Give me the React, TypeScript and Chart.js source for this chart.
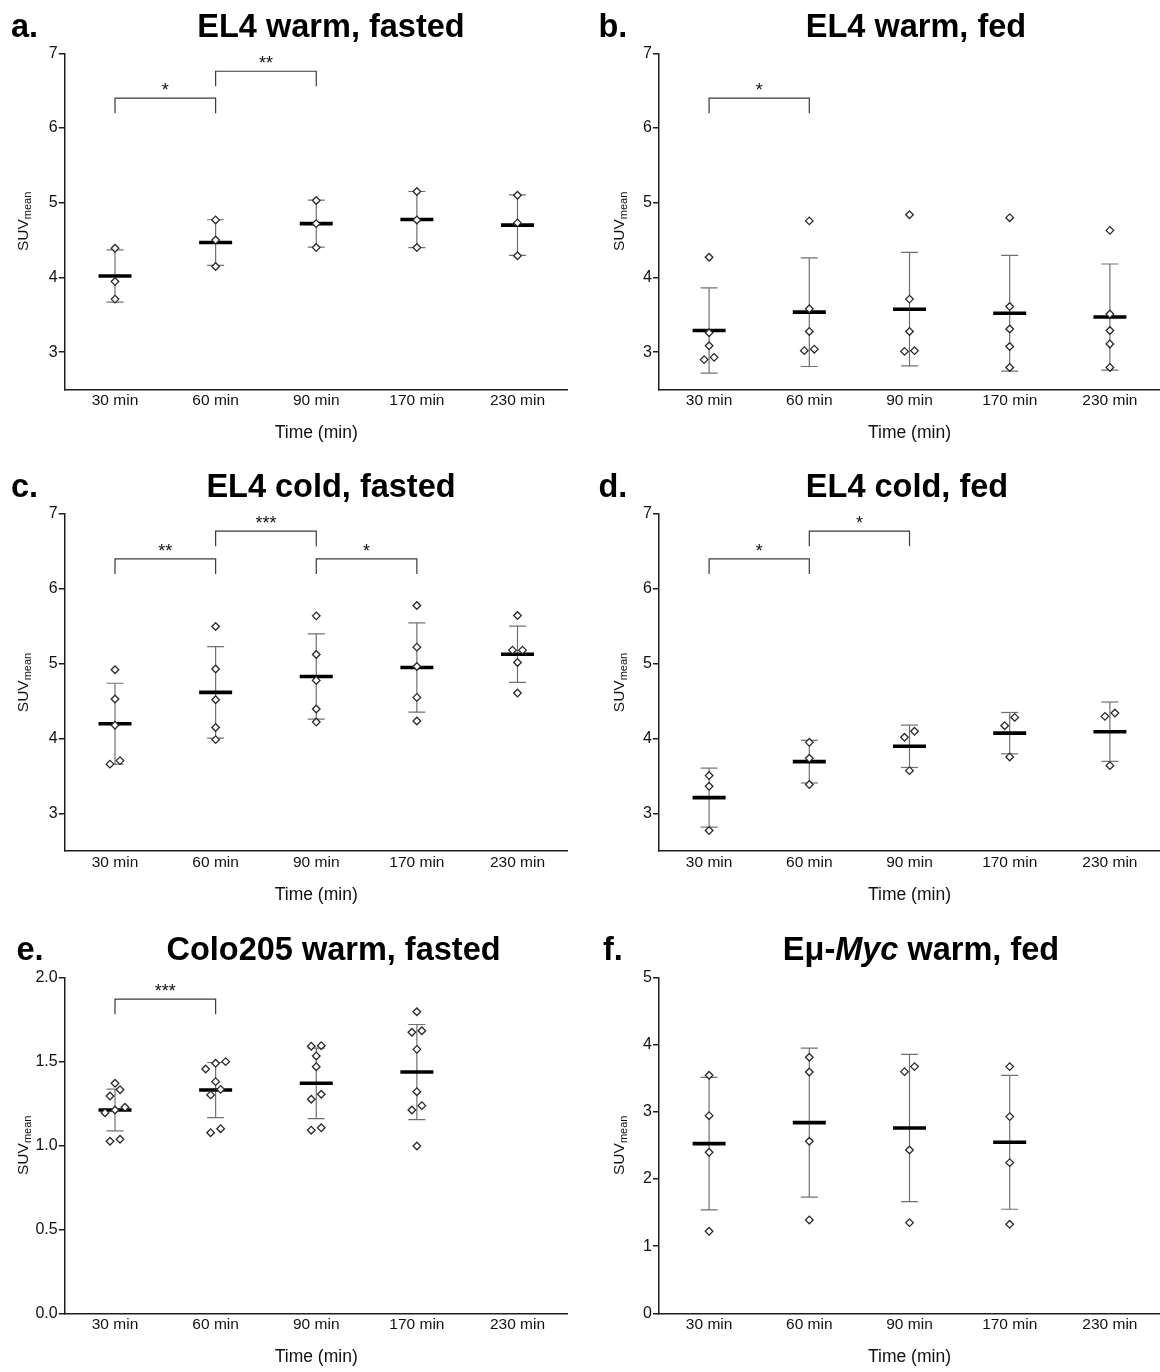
import React, { useEffect, useRef } from 'react';
import { Chart, registerables } from 'chart.js';

Chart.register(...registerables);

const FONT = '"Liberation Sans", Arial, Helvetica, sans-serif';

const timePoints = ['30 min', '60 min', '90 min', '170 min', '230 min'];

const ticksSuv7 = [3, 4, 5, 6, 7];
const ticksSuv2 = [0, 0.5, 1, 1.5, 2];
const ticksSuv5 = [0, 1, 2, 3, 4, 5];

// a. EL4 warm, fasted
const el4WarmFastedPoints = [
  [4.39, 3.945, 3.71],
  [4.77, 4.5, 4.146],
  [5.03, 4.72, 4.4],
  [5.15, 4.77, 4.4],
  [5.1, 4.73, 4.29],
];
const el4WarmFastedMean = [4.02, 4.467, 4.72, 4.775, 4.7];
const el4WarmFastedSd = [0.35, 0.305, 0.315, 0.375, 0.405];
const el4WarmFastedSig = [
  { from: 0, to: 1, level: 6.4, label: '*' },
  { from: 1, to: 2, level: 6.76, label: '**' },
];

// b. EL4 warm, fed
const el4WarmFedPoints = [
  [4.27, 3.26, 3.085, 2.93, 2.9],
  [4.757, 3.58, 3.277, 3.04, 3.02],
  [4.84, 3.71, 3.277, 3.02, 3.01],
  [4.8, 3.61, 3.31, 3.075, 2.795],
  [4.63, 3.51, 3.29, 3.11, 2.795],
];
const el4WarmFedMean = [3.29, 3.535, 3.575, 3.52, 3.47];
const el4WarmFedSd = [0.57, 0.727, 0.76, 0.775, 0.71];
const el4WarmFedSig = [{ from: 0, to: 1, level: 6.4, label: '*' }];

// c. EL4 cold, fasted
const el4ColdFastedPoints = [
  [4.92, 4.53, 4.18, 3.707, 3.66],
  [5.498, 4.93, 4.52, 4.15, 3.987],
  [5.64, 5.124, 4.778, 4.396, 4.222],
  [5.778, 5.222, 4.964, 4.551, 4.236],
  [5.644, 5.182, 5.182, 5.018, 4.609],
];
const el4ColdFastedMean = [4.2, 4.618, 4.831, 4.95, 5.128];
const el4ColdFastedSd = [0.54, 0.611, 0.569, 0.596, 0.376];
const el4ColdFastedSig = [
  { from: 0, to: 1, level: 6.4, label: '**' },
  { from: 1, to: 2, level: 6.77, label: '***' },
  { from: 2, to: 3, level: 6.4, label: '*' },
];

// d. EL4 cold, fed
const el4ColdFedPoints = [
  [3.507, 3.364, 2.773],
  [3.951, 3.738, 3.387],
  [4.098, 4.018, 3.573],
  [4.284, 4.173, 3.756],
  [4.342, 4.298, 3.64],
];
const el4ColdFedMean = [3.213, 3.693, 3.898, 4.074, 4.093];
const el4ColdFedSd = [0.394, 0.285, 0.283, 0.276, 0.396];
const el4ColdFedSig = [
  { from: 0, to: 1, level: 6.4, label: '*' },
  { from: 1, to: 2, level: 6.77, label: '*' },
];

// e. Colo205 warm, fasted (no 230 min group)
const colo205Points = [
  [1.369, 1.331, 1.293, 1.226, 1.21, 1.194, 1.036, 1.024],
  [1.498, 1.488, 1.454, 1.379, 1.333, 1.3, 1.099, 1.075],
  [1.593, 1.59, 1.532, 1.468, 1.304, 1.274, 1.104, 1.09],
  [1.795, 1.682, 1.673, 1.571, 1.319, 1.236, 1.21, 0.996],
];
const colo205Mean = [1.21, 1.329, 1.369, 1.436];
const colo205Sd = [0.124, 0.164, 0.21, 0.283];
const colo205Sig = [{ from: 0, to: 1, level: 1.87, label: '***' }];

// f. Eμ-Myc warm, fed (no 230 min group)
const emuMycPoints = [
  [3.542, 2.941, 2.396, 1.22],
  [3.81, 3.591, 2.56, 1.389],
  [3.671, 3.596, 2.43, 1.349],
  [3.671, 2.927, 2.242, 1.324],
];
const emuMycMean = [2.525, 2.837, 2.758, 2.545];
const emuMycSd = [0.987, 1.108, 1.096, 0.997];
const emuMycSig: { from: number; to: number; level: number; label: string }[] = [];

type Seg = { text: string; italic?: boolean };
type Sig = { from: number; to: number; level: number; label: string };

interface PanelSpec {
  letter: string;
  title: Seg[];
  points: number[][];
  mean: number[];
  sd: number[];
  sig: Sig[];
  yMin: number;
  yMax: number;
  yTicks: number[];
  decimals: number;
  col: 0 | 1;
  row: 0 | 1 | 2;
  titleX: number;
  letterX: number;
}

const panels: PanelSpec[] = [
  { letter: 'a.', title: [{ text: 'EL4 warm, fasted' }], points: el4WarmFastedPoints, mean: el4WarmFastedMean, sd: el4WarmFastedSd, sig: el4WarmFastedSig, yMin: 2.5, yMax: 7, yTicks: ticksSuv7, decimals: 0, col: 0, row: 0, titleX: 331, letterX: 11 },
  { letter: 'b.', title: [{ text: 'EL4 warm, fed' }], points: el4WarmFedPoints, mean: el4WarmFedMean, sd: el4WarmFedSd, sig: el4WarmFedSig, yMin: 2.5, yMax: 7, yTicks: ticksSuv7, decimals: 0, col: 1, row: 0, titleX: 336, letterX: 18.5 },
  { letter: 'c.', title: [{ text: 'EL4 cold, fasted' }], points: el4ColdFastedPoints, mean: el4ColdFastedMean, sd: el4ColdFastedSd, sig: el4ColdFastedSig, yMin: 2.5, yMax: 7, yTicks: ticksSuv7, decimals: 0, col: 0, row: 1, titleX: 331, letterX: 11 },
  { letter: 'd.', title: [{ text: 'EL4 cold, fed' }], points: el4ColdFedPoints, mean: el4ColdFedMean, sd: el4ColdFedSd, sig: el4ColdFedSig, yMin: 2.5, yMax: 7, yTicks: ticksSuv7, decimals: 0, col: 1, row: 1, titleX: 327, letterX: 18.5 },
  { letter: 'e.', title: [{ text: 'Colo205 warm, fasted' }], points: colo205Points, mean: colo205Mean, sd: colo205Sd, sig: colo205Sig, yMin: 0, yMax: 2, yTicks: ticksSuv2, decimals: 1, col: 0, row: 2, titleX: 333.5, letterX: 16.5 },
  { letter: 'f.', title: [{ text: 'Eμ-' }, { text: 'Myc', italic: true }, { text: ' warm, fed' }], points: emuMycPoints, mean: emuMycMean, sd: emuMycSd, sig: emuMycSig, yMin: 0, yMax: 5, yTicks: ticksSuv5, decimals: 0, col: 1, row: 2, titleX: 341, letterX: 23 },
];

// Geometry of the 2 x 3 grid of panels
const CANVAS_W = 580;
const colLeft = [0, 580];
const colAxisW = [64.7, 79];
const colPadRight = [12.2, 0];
const rowTop = [0, 460, 920];
const rowH = [460, 460, 452];
const rowPadTop = [53.3, 54, 57.3];
const rowXAxisH = [70.5, 69, 58.7];
const rowTitleBase = [36.5, 36.5, 40];
const colYTitleX = [28, 44];

const AXIS = '#1e1e1e';
const WHISKER = '#707070';

// Spread overlapping symbols sideways: rows of points closer than ~9 px share a line
function swarm(values: number[], idx: number, pxPerUnit: number, pxPerCat: number) {
  const sorted = [...values].sort((a, b) => a - b);
  const rows: number[][] = [];
  for (const v of sorted) {
    const row = rows[rows.length - 1];
    if (row && (v - row[0]) * pxPerUnit < 9) row.push(v);
    else rows.push([v]);
  }
  return rows.flatMap((row) =>
    row.map((v, k) => ({ x: idx + ((k - (row.length - 1) / 2) * 10) / pxPerCat, y: v }))
  );
}

function Panel({ spec }: { spec: PanelSpec }) {
  const ref = useRef<HTMLCanvasElement | null>(null);
  const h = rowH[spec.row];

  useEffect(() => {
    const canvas = ref.current;
    if (!canvas) return;
    const axisW = colAxisW[spec.col];
    const padR = colPadRight[spec.col];
    const padT = rowPadTop[spec.row];
    const xAxisH = rowXAxisH[spec.row];
    const plotW = CANVAS_W - axisW - padR;
    const plotH = h - padT - xAxisH;
    const pxPerCat = plotW / timePoints.length;
    const pxPerUnit = plotH / (spec.yMax - spec.yMin);

    const pointData = spec.points.flatMap((vals, i) => swarm(vals, i, pxPerUnit, pxPerCat));
    const meanData = spec.mean.map((m, i) => ({ x: i, y: m }));
    const capData = spec.mean.flatMap((m, i) => [
      { x: i, y: m + spec.sd[i] },
      { x: i, y: m - spec.sd[i] },
    ]);
    const whiskerSets = spec.mean.map((m, i) => ({
      type: 'line' as const,
      data: [
        { x: i, y: m - spec.sd[i] },
        { x: i, y: m + spec.sd[i] },
      ],
      borderColor: WHISKER,
      borderWidth: 1.2,
      pointRadius: 0,
      fill: false,
    }));

    const decor = {
      id: 'panelDecor',
      afterDraw(chart: any) {
        const ctx: CanvasRenderingContext2D = chart.ctx;
        const area = chart.chartArea;
        const xs = chart.scales.x;
        const ys = chart.scales.y;
        ctx.save();
        ctx.fillStyle = '#000';
        ctx.textBaseline = 'alphabetic';

        // panel letter
        const tb = rowTitleBase[spec.row];
        ctx.font = `bold 32.5px ${FONT}`;
        ctx.textAlign = 'left';
        ctx.fillText(spec.letter, spec.letterX, tb);

        // title (may mix upright and italic runs)
        const fonts = spec.title.map((s) => `${s.italic ? 'italic ' : ''}bold 32.5px ${FONT}`);
        const widths = spec.title.map((s, k) => {
          ctx.font = fonts[k];
          return ctx.measureText(s.text).width;
        });
        let tx = spec.titleX - widths.reduce((a, b) => a + b, 0) / 2;
        spec.title.forEach((s, k) => {
          ctx.font = fonts[k];
          ctx.fillText(s.text, tx, tb);
          tx += widths[k];
        });

        // x-axis title
        ctx.font = `17.5px ${FONT}`;
        ctx.textAlign = 'center';
        ctx.textBaseline = 'middle';
        ctx.fillStyle = '#111';
        ctx.fillText('Time (min)', (area.left + area.right) / 2, area.bottom + 44);

        // y-axis title SUV with subscript "mean"
        ctx.save();
        ctx.translate(colYTitleX[spec.col], (area.top + area.bottom) / 2);
        ctx.rotate(-Math.PI / 2);
        ctx.textAlign = 'left';
        ctx.textBaseline = 'alphabetic';
        ctx.font = `15.5px ${FONT}`;
        const w1 = ctx.measureText('SUV').width;
        ctx.font = `11px ${FONT}`;
        const w2 = ctx.measureText('mean').width;
        const start = -(w1 + w2) / 2;
        ctx.font = `15.5px ${FONT}`;
        ctx.fillText('SUV', start, 0);
        ctx.font = `11px ${FONT}`;
        ctx.fillText('mean', start + w1, 3);
        ctx.restore();

        // significance brackets
        ctx.strokeStyle = '#3a3a3a';
        ctx.lineWidth = 1.2;
        ctx.fillStyle = '#111';
        ctx.textAlign = 'center';
        ctx.textBaseline = 'alphabetic';
        ctx.font = `18px ${FONT}`;
        for (const s of spec.sig) {
          const x1 = xs.getPixelForValue(s.from);
          const x2 = xs.getPixelForValue(s.to);
          const y = ys.getPixelForValue(s.level);
          ctx.beginPath();
          ctx.moveTo(x1, y + 15);
          ctx.lineTo(x1, y);
          ctx.lineTo(x2, y);
          ctx.lineTo(x2, y + 15);
          ctx.stroke();
          ctx.fillText(s.label, (x1 + x2) / 2, y - 2);
        }
        ctx.restore();
      },
    };

    const chart = new Chart(canvas, {
      type: 'scatter',
      data: {
        datasets: [
          {
            data: pointData,
            pointStyle: 'rectRot',
            pointRadius: 3.8,
            pointBackgroundColor: '#ffffff',
            pointBorderColor: '#2a2a2a',
            pointBorderWidth: 1.3,
          },
          {
            data: meanData,
            pointStyle: 'line',
            pointRadius: 16.5,
            pointBorderColor: '#000000',
            pointBorderWidth: 3.6,
          },
          {
            data: capData,
            pointStyle: 'line',
            pointRadius: 8.5,
            pointBorderColor: WHISKER,
            pointBorderWidth: 1.2,
          },
          ...whiskerSets,
        ] as any,
      },
      options: {
        animation: false,
        responsive: false,
        events: [],
        layout: { autoPadding: false, padding: { left: 0, right: padR, top: padT, bottom: 0 } },
        plugins: {
          legend: { display: false },
          tooltip: { enabled: false },
          title: { display: false },
        },
        scales: {
          x: {
            type: 'linear',
            min: -0.5,
            max: 4.5,
            afterBuildTicks: (s: any) => {
              s.ticks = timePoints.map((_, i) => ({ value: i }));
            },
            afterFit: (s: any) => {
              s.height = xAxisH;
              s.paddingLeft = 0;
              s.paddingRight = 0;
            },
            grid: { display: false, drawTicks: false, tickLength: 0 },
            border: { display: true, color: AXIS, width: 1.5 },
            ticks: {
              autoSkip: false,
              maxRotation: 0,
              padding: 2,
              color: '#111',
              font: { family: FONT, size: 15.5 },
              callback: (v: any) => timePoints[v as number] ?? '',
            },
          },
          y: {
            type: 'linear',
            min: spec.yMin,
            max: spec.yMax,
            afterBuildTicks: (s: any) => {
              s.ticks = spec.yTicks.map((v) => ({ value: v }));
            },
            afterFit: (s: any) => {
              s.width = axisW;
              s.paddingTop = 0;
              s.paddingBottom = 0;
            },
            grid: {
              display: true,
              drawOnChartArea: false,
              drawTicks: true,
              tickLength: 6,
              color: AXIS,
              lineWidth: 1.5,
            },
            border: { display: true, color: AXIS, width: 1.5 },
            ticks: {
              padding: 1,
              color: '#111',
              font: { family: FONT, size: 16 },
              callback: (v: any) => Number(v).toFixed(spec.decimals),
            },
          },
        },
      },
      plugins: [decor],
    });

    return () => chart.destroy();
  }, [spec, h]);

  return (
    <canvas
      ref={ref}
      width={CANVAS_W}
      height={h}
      style={{
        position: 'absolute',
        left: colLeft[spec.col],
        top: rowTop[spec.row],
        width: CANVAS_W,
        height: h,
      }}
    />
  );
}

export default function App() {
  return (
    <div
      style={{
        position: 'absolute',
        left: 0,
        top: 0,
        width: 1160,
        height: 1372,
        background: '#ffffff',
        overflow: 'hidden',
      }}
    >
      {panels.map((p) => (
        <Panel key={p.letter} spec={p} />
      ))}
    </div>
  );
}
